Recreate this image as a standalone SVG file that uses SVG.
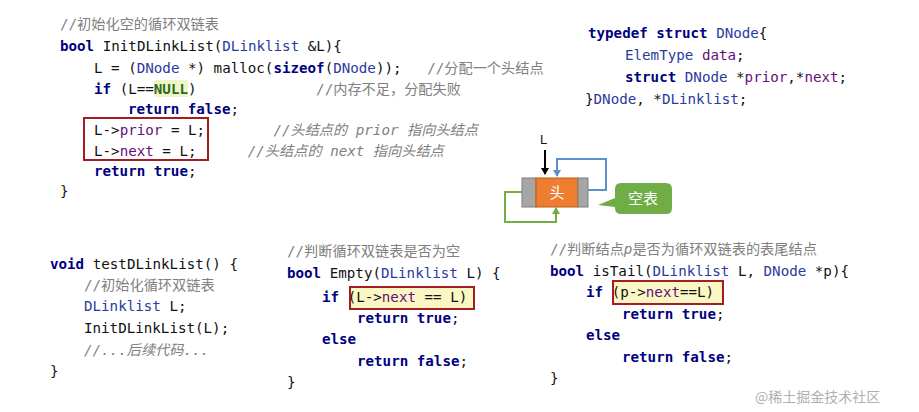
<svg xmlns="http://www.w3.org/2000/svg" width="919" height="412" viewBox="0 0 919 412">
<style>
text{font-family:"DejaVu Sans Mono","Noto Sans CJK SC",monospace;font-size:14.2px;fill:#111;white-space:pre}
.k{fill:#000080;font-weight:bold}
.t{fill:#2a3aa0}
.f{fill:#660e7a}
.c{fill:#808080}
.ci{fill:#808080;font-style:italic}
.box{fill:none;stroke:#a51c24;stroke-width:2}
</style>
<defs>
<marker id="ab" markerWidth="8" markerHeight="8" refX="6" refY="4" orient="auto" markerUnits="userSpaceOnUse"><path d="M0,0 L7,4 L0,8z" fill="#000"/></marker>
<marker id="abl" markerWidth="8" markerHeight="8" refX="6" refY="4" orient="auto" markerUnits="userSpaceOnUse"><path d="M0,0 L7,4 L0,8z" fill="#5b8fd0"/></marker>
<marker id="ag" markerWidth="8" markerHeight="8" refX="6" refY="4" orient="auto" markerUnits="userSpaceOnUse"><path d="M0,0 L7,4 L0,8z" fill="#70ad47"/></marker>
</defs>
<rect width="919" height="412" fill="#fff"/>
<g id="init">
<text x="60" y="29" class="c">//初始化空的循环双链表</text>
<text x="60" y="51"><tspan class="k">bool</tspan> InitDLinkList(<tspan class="t">DLinklist</tspan> &amp;L){</text>
<text x="94" y="73">L = (<tspan class="t">DNode</tspan> *) malloc(<tspan class="k">sizeof</tspan>(<tspan class="t">DNode</tspan>));   <tspan class="c">//分配一个头结点</tspan></text>
<rect x="154" y="80" width="34" height="17" fill="#eef5c8"/>
<text x="94" y="94"><tspan class="k">if</tspan> (L==<tspan class="k" style="fill:#2e6b1e">NULL</tspan>)              <tspan class="c">//内存不足，分配失败</tspan></text>
<text x="128" y="114"><tspan class="k">return false</tspan>;</text>
<rect x="84" y="118" width="124" height="42" class="box"/>
<text x="94" y="135">L-&gt;<tspan class="f">prior</tspan> = L;        <tspan class="ci">//头结点的 prior 指向头结点</tspan></text>
<text x="94" y="156">L-&gt;<tspan class="f">next</tspan> = L;      <tspan class="ci">//头结点的 next 指向头结点</tspan></text>
<text x="94" y="176"><tspan class="k">return true</tspan>;</text>
<text x="60" y="196">}</text>
</g>
<g id="typedef">
<text x="588" y="38"><tspan class="k">typedef struct</tspan> <tspan class="t">DNode</tspan>{</text>
<text x="625" y="60"><tspan class="t">ElemType</tspan> <tspan class="f">data</tspan>;</text>
<text x="625" y="82"><tspan class="k">struct</tspan> <tspan class="t">DNode</tspan> *<tspan class="f">prior</tspan>,*<tspan class="f">next</tspan>;</text>
<text x="585" y="104">}<tspan class="t">DNode</tspan>, *<tspan class="t">DLinklist</tspan>;</text>
</g>
<g id="connectors" fill="none" stroke-width="2">
<path d="M545,150 V174" stroke="#000" marker-end="url(#ab)"/>
<path d="M588,190 H606 V159 H557 V176" stroke="#5b8fd0" marker-end="url(#abl)"/>
<path d="M522,192 H505 V222 H556 V208" stroke="#70ad47" marker-end="url(#ag)"/>
</g>
<g id="node">
<text x="540" y="144" style="font-family:'Liberation Sans',sans-serif;font-size:13px">L</text>
<rect x="522" y="178" width="14" height="29" fill="#a6a6a6" stroke="#7f7f7f"/>
<rect x="536" y="178" width="42" height="29" fill="#ed7d31" stroke="#c55a11"/>
<rect x="578" y="178" width="10" height="29" fill="#a6a6a6" stroke="#7f7f7f"/>
<text x="557" y="198" text-anchor="middle" style="fill:#fff;font-family:'Noto Sans CJK SC',sans-serif;font-size:15px">头</text>
</g>
<g id="callout">
<path d="M621,183 H666 Q672,183 672,189 V208 Q672,214 666,214 H621 Q615,214 615,208 V207 L598,205 L615,198 V189 Q615,183 621,183z" fill="#70ad47"/>
<text x="643" y="204" text-anchor="middle" style="fill:#fff;font-family:'Noto Sans CJK SC',sans-serif;font-size:15px">空表</text>
</g>
<g id="test">
<text x="50" y="269"><tspan class="k">void</tspan> testDLinkList() {</text>
<text x="84" y="290" class="c">//初始化循环双链表</text>
<text x="84" y="311"><tspan class="t">DLinklist</tspan> L;</text>
<text x="84" y="333">InitDLinkList(L);</text>
<text x="84" y="355" class="ci">//...后续代码...</text>
<text x="50" y="376">}</text>
</g>
<g id="empty">
<text x="287" y="256" class="c">//判断循环双链表是否为空</text>
<text x="287" y="278"><tspan class="k">bool</tspan> Empty(<tspan class="t">DLinklist</tspan> L) {</text>
<rect x="350" y="287" width="124" height="22" fill="#fbf7c4"/>
<rect x="350" y="287" width="124" height="22" class="box"/>
<text x="322" y="302"><tspan class="k">if</tspan> (L-&gt;<tspan class="f">next</tspan> == L)</text>
<text x="357" y="323"><tspan class="k">return true</tspan>;</text>
<text x="322" y="344"><tspan class="k">else</tspan></text>
<text x="357" y="366"><tspan class="k">return false</tspan>;</text>
<text x="287" y="387">}</text>
</g>
<g id="istail">
<text x="550" y="254" class="c">//判断结点<tspan class="ci">p</tspan>是否为循环双链表的表尾结点</text>
<text x="550" y="276"><tspan class="k">bool</tspan> isTail(<tspan class="t">DLinklist</tspan> L, <tspan class="t">DNode</tspan> *p){</text>
<rect x="613" y="281" width="110" height="23" fill="#fbf7c4"/>
<rect x="613" y="281" width="110" height="23" class="box"/>
<text x="586" y="297"><tspan class="k">if</tspan> (p-&gt;<tspan class="f">next</tspan>==L)</text>
<text x="622" y="319"><tspan class="k">return true</tspan>;</text>
<text x="586" y="340"><tspan class="k">else</tspan></text>
<text x="622" y="362"><tspan class="k">return false</tspan>;</text>
<text x="550" y="383">}</text>
</g>
<text x="755" y="402" style="fill:#b0b0b0;font-family:'Noto Sans CJK SC',sans-serif;font-size:14px">@稀土掘金技术社区</text>
</svg>
